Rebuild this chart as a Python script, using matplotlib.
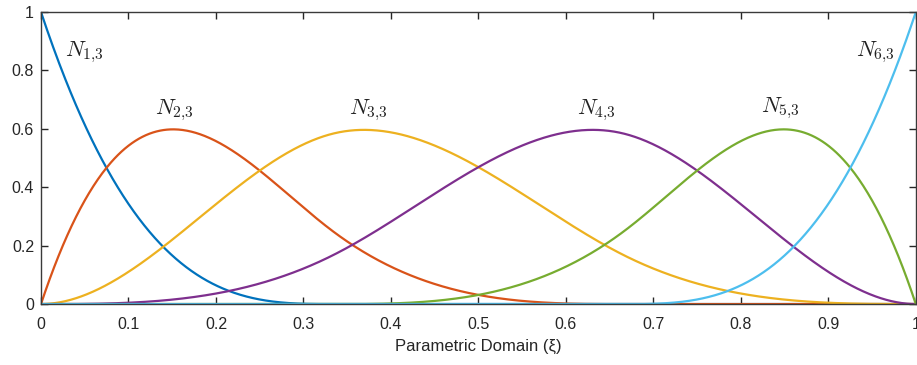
import numpy as np
import matplotlib
matplotlib.use("Agg")
from matplotlib import pyplot as plt

# cubic B-spline basis on an open uniform knot vector
degree = 3
knots = [0, 0, 0, 0, 1/3, 2/3, 1, 1, 1, 1]
names = [r"$N_{1{,}3}$", r"$N_{2{,}3}$", r"$N_{3{,}3}$", r"$N_{4{,}3}$", r"$N_{5{,}3}$", r"$N_{6{,}3}$"]
colors = ["#0072BD", "#D95319", "#EDB120", "#7E2F8E", "#77AC30", "#4DBEEE"]
label_x = [0.05, 0.153, 0.374, 0.635, 0.845, 0.954]
label_y = [0.863, 0.664, 0.664, 0.664, 0.671, 0.863]
xticks = [0, 0.1, 0.2, 0.3, 0.4, 0.5, 0.6, 0.7, 0.8, 0.9, 1]
yticks = [0, 0.2, 0.4, 0.6, 0.8, 1]


def basis(i, p, u, t):
    # Cox-de Boor recursion
    if p == 0:
        if t[i + 1] == t[-1]:
            return ((u >= t[i]) & (u <= t[i + 1]) & (t[i] < t[i + 1])).astype(float)
        return ((u >= t[i]) & (u < t[i + 1])).astype(float)
    out = np.zeros_like(u)
    if t[i + p] > t[i]:
        out += (u - t[i]) / (t[i + p] - t[i]) * basis(i, p - 1, u, t)
    if t[i + p + 1] > t[i + 1]:
        out += (t[i + p + 1] - u) / (t[i + p + 1] - t[i + 1]) * basis(i + 1, p - 1, u, t)
    return out


plt.rcParams["font.family"] = ["Liberation Sans", "DejaVu Sans"]
plt.rcParams["mathtext.fontset"] = "cm"

fig = plt.figure(figsize=(9.17, 3.65), dpi=100)
ax = fig.add_axes([0.0447, 0.167, 0.954, 0.800])

xi = np.linspace(0, 1, 1001)
n_funcs = len(knots) - degree - 1
for i in range(n_funcs):
    ax.plot(xi, basis(i, degree, xi, knots), color=colors[i], lw=1.6)
    ax.text(label_x[i], label_y[i], names[i], fontsize=16, ha="center", va="center",
            color="#222222")

ax.set_xlim(0, 1)
ax.set_ylim(0, 1)
ax.set_xticks(xticks)
ax.set_xticklabels(["0", "0.1", "0.2", "0.3", "0.4", "0.5", "0.6", "0.7", "0.8", "0.9", "1"])
ax.set_yticks(yticks)
ax.set_yticklabels(["0", "0.2", "0.4", "0.6", "0.8", "1"])
ax.tick_params(direction="in", top=True, right=True, length=5, width=1,
               colors="#262626", labelsize=11.5)
ax.tick_params(axis="x", pad=9)
ax.tick_params(axis="y", pad=5)
for s in ax.spines.values():
    s.set_color("#3a3a3a")
    s.set_linewidth(1)
ax.set_xlabel("Parametric Domain (ξ)", fontsize=12, color="#262626", labelpad=5)

fig.savefig("out.png", dpi=100)
